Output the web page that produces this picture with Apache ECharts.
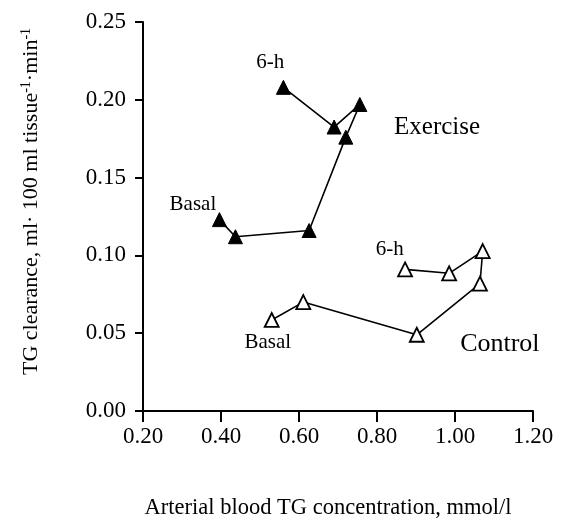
<!DOCTYPE html>
<html>
<head>
<meta charset="utf-8">
<script src="https://cdn.jsdelivr.net/npm/echarts@6/dist/echarts.min.js"></script>
<style>
  html, body { margin: 0; padding: 0; background: #fff; }
  #chart { width: 564px; height: 519px; }
</style>
</head>
<body>
<div id="chart"></div>
<script>
// arterial TG concentration (mmol/l) and TG clearance, in time order basal -> 6-h
const exerciseX = [0.396, 0.437, 0.626, 0.720, 0.756, 0.690, 0.560];
const exerciseY = [0.123, 0.112, 0.116, 0.176, 0.197, 0.1825, 0.208];
const controlX = [0.530, 0.611, 0.902, 1.064, 1.071, 0.985, 0.872];
const controlY = [0.0585, 0.070, 0.049, 0.0818, 0.1028, 0.0885, 0.091];

const xTicks = [0.20, 0.40, 0.60, 0.80, 1.00, 1.20];
const yTicks = [0.00, 0.05, 0.10, 0.15, 0.20, 0.25];

// text notes placed in data coordinates
const notes = [
  { name: '6-h', coord: [0.526, 0.224], size: 21 },
  { name: 'Basal', coord: [0.328, 0.133], size: 21 },
  { name: 'Exercise', coord: [0.954, 0.182], size: 25 },
  { name: '6-h', coord: [0.833, 0.104], size: 21 },
  { name: 'Basal', coord: [0.520, 0.044], size: 21 },
  { name: 'Control', coord: [1.115, 0.043], size: 26 }
];

const font = 'Liberation Serif';
const pairs = (xs, ys) => xs.map((x, i) => [x, ys[i]]);

const chart = echarts.init(document.getElementById('chart'), null, { renderer: 'canvas' });
chart.setOption({
  animation: false,
  backgroundColor: '#fff',
  textStyle: { fontFamily: font, color: '#000' },
  grid: { left: 143, top: 22, right: 31, bottom: 108, outerBoundsMode: 'none', containLabel: false },
  xAxis: {
    type: 'value',
    min: xTicks[0], max: xTicks[xTicks.length - 1], interval: 0.2,
    name: 'Arterial blood TG concentration, mmol/l',
    nameLocation: 'middle', nameGap: 86,
    nameTextStyle: { fontFamily: font, fontSize: 22.5, color: '#000', padding: [0, 20, 0, 0] },
    axisLine: { lineStyle: { color: '#000', width: 2 } },
    axisTick: { length: 11, lineStyle: { color: '#000', width: 2 } },
    axisLabel: { fontFamily: font, fontSize: 23, color: '#000', margin: 14,
      formatter: v => v.toFixed(2) },
    splitLine: { show: false }
  },
  yAxis: {
    type: 'value',
    min: yTicks[0], max: yTicks[yTicks.length - 1], interval: 0.05,
    name: '{a|TG clearance, ml· 100 ml tissue}{s|-1}{a|·min}{s|-1}',
    nameLocation: 'middle', nameGap: 100,
    nameTextStyle: {
      fontFamily: font, color: '#000', padding: [0, 0, 0, 30],
      rich: {
        a: { fontFamily: font, fontSize: 22, color: '#000' },
        s: { fontFamily: font, fontSize: 14, color: '#000', verticalAlign: 'top', padding: [0, 0, 10, 0] }
      }
    },
    axisLine: { lineStyle: { color: '#000', width: 2 } },
    axisTick: { length: 8, lineStyle: { color: '#000', width: 2 } },
    axisLabel: { fontFamily: font, fontSize: 23, color: '#000', margin: 17,
      formatter: v => v.toFixed(2) },
    splitLine: { show: false }
  },
  series: [
    {
      name: 'Exercise', type: 'line',
      data: pairs(exerciseX, exerciseY),
      symbol: 'triangle', symbolSize: 14,
      lineStyle: { color: '#000', width: 1.6 },
      itemStyle: { color: '#000', borderColor: '#000', borderWidth: 1 },
      markPoint: {
        silent: true, symbol: 'circle', symbolSize: 0,
        data: notes.slice(0, 3).map(n => ({
          name: n.name, coord: n.coord,
          label: { show: true, position: 'inside', formatter: '{b}',
            fontFamily: font, fontSize: n.size, color: '#000' }
        }))
      }
    },
    {
      name: 'Control', type: 'line',
      data: pairs(controlX, controlY),
      symbol: 'triangle', symbolSize: 14,
      lineStyle: { color: '#000', width: 1.6 },
      itemStyle: { color: '#fff', borderColor: '#000', borderWidth: 1.8 },
      markPoint: {
        silent: true, symbol: 'circle', symbolSize: 0,
        data: notes.slice(3).map(n => ({
          name: n.name, coord: n.coord,
          label: { show: true, position: 'inside', formatter: '{b}',
            fontFamily: font, fontSize: n.size, color: '#000' }
        }))
      }
    }
  ]
});
</script>
</body>
</html>
